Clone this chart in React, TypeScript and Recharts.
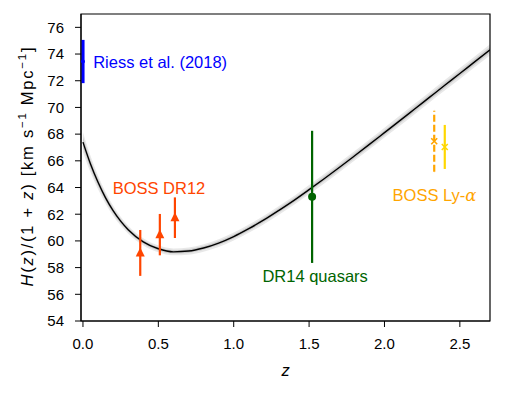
import {
  Area,
  ComposedChart,
  ErrorBar,
  Line,
  ReferenceArea,
  ReferenceDot,
  Scatter,
  XAxis,
  YAxis,
} from "recharts";

const FONT = '"Liberation Sans", Arial, sans-serif';

// model curve H(z)/(1+z)
const curveZ = [
  0, 0.05, 0.1, 0.15, 0.2, 0.25, 0.3, 0.4, 0.5, 0.6, 0.7, 0.8, 0.9, 1.0, 1.1, 1.2,
  1.3, 1.4, 1.5, 1.6, 1.7, 1.8, 1.9, 2.0, 2.1, 2.2, 2.3, 2.4, 2.5, 2.6, 2.7,
];
const curveH = [
  67.4, 65.76, 64.39, 63.23, 62.27, 61.48, 60.84, 59.93, 59.41, 59.18, 59.24, 59.47,
  59.84, 60.33, 60.92, 61.57, 62.29, 63.04, 63.84, 64.66, 65.5, 66.36, 67.23, 68.11,
  68.99, 69.88, 70.77, 71.66, 72.54, 73.43, 74.31,
];
const bandOuter = [
  0.75, 0.62, 0.52, 0.44, 0.38, 0.33, 0.3, 0.27, 0.26, 0.26, 0.27, 0.28, 0.29, 0.3,
  0.31, 0.32, 0.33, 0.33, 0.34, 0.35, 0.35, 0.36, 0.37, 0.37, 0.38, 0.39, 0.39, 0.4,
  0.41, 0.41, 0.42,
];
const bandInner = [
  0.4, 0.33, 0.28, 0.24, 0.2, 0.18, 0.16, 0.14, 0.13, 0.13, 0.14, 0.14, 0.15, 0.15,
  0.16, 0.16, 0.17, 0.17, 0.17, 0.18, 0.18, 0.18, 0.19, 0.19, 0.19, 0.2, 0.2, 0.2,
  0.21, 0.21, 0.21,
];

// measurements
const riessZ = [0];
const riessH = [73.44];
const riessErr = [1.62];

const dr12Z = [0.38, 0.51, 0.61];
const dr12H = [59.1, 60.47, 61.74];
const dr12Err = [1.72, 1.55, 1.52];

const dr14Z = [1.52];
const dr14H = [63.3];
const dr14Err = [4.95];

const lyaAutoZ = [2.33];
const lyaAutoH = [67.47];
const lyaAutoErr = [2.28];

const lyaCrossZ = [2.4];
const lyaCrossH = [67.04];
const lyaCrossErr = [1.65];

const xTicks = [0, 0.5, 1.0, 1.5, 2.0, 2.5];
const yTicks = [54, 56, 58, 60, 62, 64, 66, 68, 70, 72, 74, 76];

const curveData = curveZ.map((z, i) => ({
  z,
  h: curveH[i],
  outer: [curveH[i] - bandOuter[i], curveH[i] + bandOuter[i]],
  inner: [curveH[i] - bandInner[i], curveH[i] + bandInner[i]],
}));

const toPoints = (zs: number[], hs: number[], errs: number[]) =>
  zs.map((z, i) => ({ z, h: hs[i], err: errs[i] }));

const riessData = toPoints(riessZ, riessH, riessErr);
const dr12Data = toPoints(dr12Z, dr12H, dr12Err);
const dr14Data = toPoints(dr14Z, dr14H, dr14Err);
const lyaAutoData = toPoints(lyaAutoZ, lyaAutoH, lyaAutoErr);
const lyaCrossData = toPoints(lyaCrossZ, lyaCrossH, lyaCrossErr);

const BLUE = "#0000ff";
const ORANGERED = "#ff4500";
const GREEN = "#006400";
const ORANGE = "#ffa500";
const GOLD = "#ffd700";

const Triangle = ({ cx, cy }: any) => (
  <path
    d={`M${cx},${cy - 5.5} L${cx + 4.5},${cy + 3.5} L${cx - 4.5},${cy + 3.5} Z`}
    fill={ORANGERED}
  />
);

const Dot = (color: string, r: number) => ({ cx, cy }: any) => (
  <circle cx={cx} cy={cy} r={r} fill={color} />
);

const Cross = (color: string) => ({ cx, cy }: any) => (
  <path
    d={`M${cx - 3},${cy - 3} L${cx + 3},${cy + 3} M${cx - 3},${cy + 3} L${cx + 3},${cy - 3}`}
    stroke={color}
    strokeWidth={1.6}
  />
);

const note =
  (text: React.ReactNode, color: string, anchor: "start" | "middle", baseline?: string) =>
  ({ cx, cy }: any) => (
    <text
      x={cx}
      y={cy}
      fill={color}
      fontSize={16.5}
      fontFamily={FONT}
      textAnchor={anchor}
      dominantBaseline={baseline}
    >
      {text}
    </text>
  );

const YLabel = () => (
  <text
    transform="translate(33,167) rotate(-90)"
    textAnchor="middle"
    fontSize={16.5}
    fontFamily={FONT}
    fill="#000"
    textLength={239}
    lengthAdjust="spacing"
  >
    <tspan fontStyle="italic">H</tspan>(<tspan fontStyle="italic">z</tspan>)/(1 + <tspan fontStyle="italic">z</tspan>) [km s
    <tspan dy={-7} fontSize={11.5}>−1</tspan>
    <tspan dy={7}> Mpc</tspan>
    <tspan dy={-7} fontSize={11.5}>−1</tspan>
    <tspan dy={7}>]</tspan>
  </text>
);

const XLabel = () => (
  <text x={285.5} y={376} textAnchor="middle" fontSize={16.5} fontFamily={FONT} fontStyle="italic" fill="#000">
    z
  </text>
);

export default function App() {
  return (
    <div style={{ position: "absolute", left: 0, top: 0, background: "#fff" }}>
      <ComposedChart
        width={516}
        height={394}
        data={curveData}
        margin={{ top: 14, right: 26, bottom: 0, left: 0 }}
        style={{ fontFamily: FONT }}
      >
        <XAxis
          type="number"
          dataKey="z"
          domain={[-0.013, 2.7]}
          ticks={xTicks}
          allowDataOverflow
          height={73}
          tickSize={6}
          tickMargin={11}
          tickFormatter={(v: number) => v.toFixed(1)}
          tick={{ fontSize: 15, fill: "#000", fontFamily: FONT }}
          stroke="#000"
          label={<XLabel />}
        />
        <YAxis
          type="number"
          dataKey="h"
          domain={[54, 77]}
          ticks={yTicks}
          allowDataOverflow
          width={81}
          tickSize={6}
          tickMargin={11}
          tick={{ fontSize: 15, fill: "#000", fontFamily: FONT }}
          stroke="#000"
          label={<YLabel />}
        />

        <Area
          type="monotone"
          dataKey="outer"
          stroke="none"
          fill="#000"
          fillOpacity={0.09}
          isAnimationActive={false}
        />
        <Area
          type="monotone"
          dataKey="inner"
          stroke="none"
          fill="#000"
          fillOpacity={0.12}
          isAnimationActive={false}
        />
        <Line
          type="monotone"
          dataKey="h"
          stroke="#000"
          strokeWidth={1.4}
          dot={false}
          isAnimationActive={false}
        />

        <Scatter data={riessData} shape={Dot(BLUE, 2)} isAnimationActive={false}>
          <ErrorBar dataKey="err" direction="y" width={0} stroke={BLUE} strokeWidth={3.2} />
        </Scatter>
        <Scatter data={dr12Data} shape={Triangle} isAnimationActive={false}>
          <ErrorBar dataKey="err" direction="y" width={0} stroke={ORANGERED} strokeWidth={2.2} />
        </Scatter>
        <Scatter data={dr14Data} shape={Dot(GREEN, 4)} isAnimationActive={false}>
          <ErrorBar dataKey="err" direction="y" width={0} stroke={GREEN} strokeWidth={2.2} />
        </Scatter>
        <Scatter data={lyaAutoData} shape={Cross(ORANGE)} isAnimationActive={false}>
          <ErrorBar
            dataKey="err"
            direction="y"
            width={0}
            stroke={ORANGE}
            strokeWidth={2.2}
            strokeDasharray="7 3"
          />
        </Scatter>
        <Scatter data={lyaCrossData} shape={Cross(GOLD)} isAnimationActive={false}>
          <ErrorBar dataKey="err" direction="y" width={0} stroke={GOLD} strokeWidth={2.2} />
        </Scatter>

        <ReferenceDot x={0.068} y={73.44} r={0} shape={note("Riess et al. (2018)", BLUE, "start", "central")} />
        <ReferenceDot x={0.504} y={63.5} r={0} shape={note("BOSS DR12", ORANGERED, "middle")} />
        <ReferenceDot x={1.54} y={56.95} r={0} shape={note("DR14 quasars", GREEN, "middle")} />
        <ReferenceDot
          x={2.332}
          y={63.0}
          r={0}
          shape={note(
            <>
              BOSS Ly-<tspan fontStyle="italic" fontFamily="DejaVu Serif">α</tspan>
            </>,
            ORANGE,
            "middle"
          )}
        />

        <ReferenceArea
          x1={-0.013}
          x2={2.7}
          y1={54}
          y2={77}
          fill="none"
          stroke="#000"
          strokeWidth={1.2}
          ifOverflow="visible"
        />
      </ComposedChart>
    </div>
  );
}
